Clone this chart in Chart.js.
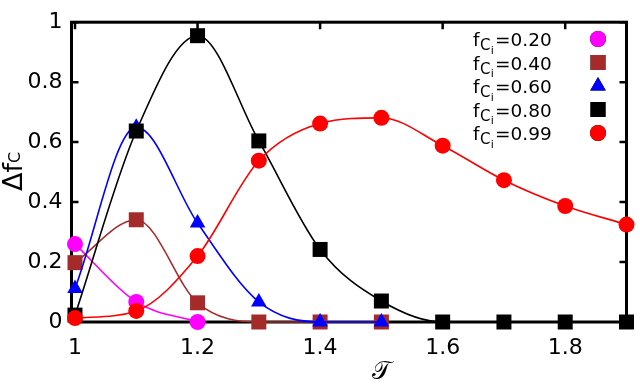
<!DOCTYPE html>
<html>
<head>
<meta charset="utf-8">
<script src="https://cdn.jsdelivr.net/npm/chart.js@4/dist/chart.umd.min.js"></script>
<style>
  html, body { margin: 0; padding: 0; background: #fff; }
  #wrap { width: 640px; height: 384px; }
</style>
</head>
<body>
<div id="wrap"><canvas id="chart" width="640" height="384"></canvas></div>
<script>
// --- DATA ---
const tau = [1.0, 1.1, 1.2, 1.3, 1.4, 1.5, 1.6, 1.7, 1.8, 1.9];
const fci020 = [0.260, 0.067, 0.000];
const fci040 = [0.198, 0.341, 0.064, 0.000, 0.000, 0.000];
const fci060 = [0.112, 0.650, 0.330, 0.067, 0.000, 0.000];
const fci080 = [0.023, 0.637, 0.955, 0.604, 0.242, 0.070, 0.000, 0.000, 0.000, 0.000];
const fci099 = [0.013, 0.037, 0.220, 0.538, 0.662, 0.681, 0.588, 0.473, 0.387, 0.325];
const fciLabels = ['0.20', '0.40', '0.60', '0.80', '0.99'];
const xTicks = [1, 1.2, 1.4, 1.6, 1.8];
const yTicks = [0, 0.2, 0.4, 0.6, 0.8, 1];

const FONT = 'DejaVu Sans';

// --- SERIES STYLE ---
const series = [
    { values: fci020, color: '#ff00ff', style: 'circle', radius: 8 },
    { values: fci040, color: '#a52a2a', style: 'rect', radius: 10.6 },
    { values: fci060, color: '#0000ff', style: 'triangle', radius: 9 },
    { values: fci080, color: '#000000', style: 'rect', radius: 10.6 },
    { values: fci099, color: '#ff0000', style: 'circle', radius: 8 }
];

const datasets = series.map((s, i) => ({
    label: 'fCi=' + fciLabels[i],
    data: s.values.map((v, k) => ({ x: tau[k], y: v })),
    borderColor: s.color,
    borderWidth: 1.6,
    backgroundColor: s.color,
    pointStyle: s.style,
    pointRadius: s.radius,
    pointBackgroundColor: s.color,
    pointBorderWidth: 0,
    cubicInterpolationMode: 'monotone',
    fill: false,
    clip: false,
    order: series.length - 1 - i
}));

// --- FRAME, INWARD TICKS, LEGEND, AXIS TITLES ---
const decorPlugin = {
    id: 'decor',
    beforeDatasetsDraw(chart) {
        const { ctx, chartArea: a, scales } = chart;
        ctx.save();
        ctx.strokeStyle = '#000';
        ctx.lineWidth = 3;
        ctx.strokeRect(a.left, a.top, a.right - a.left, a.bottom - a.top);
        ctx.lineWidth = 2.5;
        ctx.beginPath();
        xTicks.forEach(v => {
            const px = scales.x.getPixelForValue(v);
            ctx.moveTo(px, a.bottom); ctx.lineTo(px, a.bottom - 7);
            ctx.moveTo(px, a.top); ctx.lineTo(px, a.top + 7);
        });
        yTicks.forEach(v => {
            const py = scales.y.getPixelForValue(v);
            ctx.moveTo(a.left, py); ctx.lineTo(a.left + 7, py);
            ctx.moveTo(a.right, py); ctx.lineTo(a.right - 7, py);
        });
        ctx.stroke();
        ctx.restore();
    },
    afterDraw(chart) {
        const ctx = chart.ctx;
        ctx.save();
        ctx.fillStyle = '#000';
        ctx.textBaseline = 'alphabetic';
        ctx.textAlign = 'left';

        // legend
        series.forEach((s, i) => {
            const base = 46 + i * 23.5;
            let x = 473;
            ctx.fillStyle = '#000';
            ctx.font = '18.5px "' + FONT + '"';
            ctx.fillText('f', x, base);
            x += ctx.measureText('f').width + 0.5;
            ctx.font = '15px "' + FONT + '"';
            ctx.fillText('C', x, base + 4);
            x += ctx.measureText('C').width + 0.3;
            ctx.font = '11px "' + FONT + '"';
            ctx.fillText('i', x, base + 7.5);
            x += ctx.measureText('i').width + 1.2;
            ctx.font = '18.5px "' + FONT + '"';
            ctx.fillText('=' + fciLabels[i], x, base);
            Chart.helpers.drawPoint(ctx, {
                pointStyle: s.style, radius: s.radius, borderWidth: 0, rotation: 0
            }, 598, base - 7);
            ctx.fillStyle = s.color;
            ctx.fill();
        });

        // y title: Δf with subscript C
        ctx.fillStyle = '#000';
        ctx.save();
        ctx.translate(22, 191);
        ctx.rotate(-Math.PI / 2);
        ctx.font = '27px "' + FONT + '"';
        ctx.fillText('Δf', 0, 0);
        const w = ctx.measureText('Δf').width;
        ctx.font = '16px "' + FONT + '"';
        ctx.fillText('C', w, -2);
        ctx.restore();

        // x title
        ctx.font = '25px "DejaVu Serif", "' + FONT + '"';
        ctx.textAlign = 'center';
        ctx.textBaseline = 'middle';
        ctx.fillText('𝒯', 381, 372);
        ctx.restore();
    }
};

const tickFont = { family: FONT, size: 22 };

new Chart(document.getElementById('chart'), {
    type: 'line',
    data: { datasets },
    plugins: [decorPlugin],
    options: {
        responsive: false,
        animation: false,
        devicePixelRatio: 1,
        layout: { padding: { left: 0, right: 13.5, top: 18, bottom: 0 } },
        plugins: { legend: { display: false }, tooltip: { enabled: false } },
        scales: {
            x: {
                type: 'linear',
                min: 0.9943,
                max: 1.9,
                afterBuildTicks: s => { s.ticks = xTicks.map(v => ({ value: v })); },
                afterFit: s => { s.height = 62; },
                grid: { display: false, drawTicks: false },
                border: { display: false },
                ticks: { padding: 13, color: '#000', font: tickFont, maxRotation: 0, callback: v => String(v) }
            },
            y: {
                type: 'linear',
                min: 0,
                max: 1,
                afterBuildTicks: s => { s.ticks = yTicks.map(v => ({ value: v })); },
                afterFit: s => { s.width = 71.5; },
                grid: { display: false, drawTicks: false },
                border: { display: false },
                ticks: { padding: 9, color: '#000', font: tickFont, callback: v => String(v) }
            }
        }
    }
});
</script>
</body>
</html>
